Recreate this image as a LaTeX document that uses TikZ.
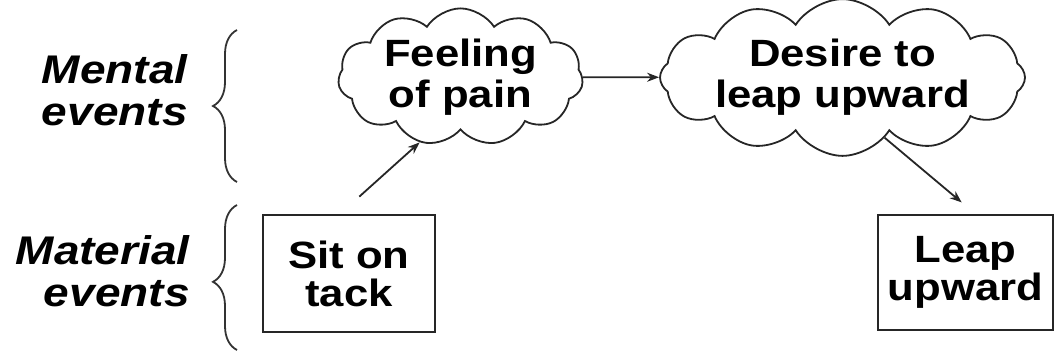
\documentclass[tikz,border=0pt]{standalone}
\usepackage{fontspec}
\setmainfont{Liberation Sans}[FakeStretch=1.15]
\usetikzlibrary{
  arrows.meta,
  shapes.symbols,
  decorations.pathreplacing
}
\begin{document}
\begin{tikzpicture}[
      x=0.5pt, y=-0.5pt,
      event/.style={
         rectangle,
         draw=black!85,
         line width=1pt,
         inner sep=0pt,
         font=\bfseries\fontsize{19}{19}\selectfont,
         align=center
      },
      thought/.style={
         cloud,
         cloud puff arc=115,
         cloud ignores aspect=false,
         draw=black!85,
         line width=0.9pt,
         inner sep=0pt,
         font=\bfseries\fontsize{19}{20.5}\selectfont,
         align=center
      },
      kind/.style={
         anchor=east,
         inner sep=0pt,
         align=right,
         font=\bfseries\itshape\fontsize{20}{21}\selectfont
      },
      grouping/.style={
         decorate,
         decoration={brace,amplitude=12pt,aspect=#1},
         line width=0.9pt,
         draw=black!80
      },
      >={Stealth[length=6pt,width=4.5pt]},
      flow/.style={->,line width=0.9pt,draw=black!85}
    ]
    \useasboundingbox (0,0) rectangle (1055,354);
    % left column
    \node (mental) [kind] at (188,90) {Mental\\events};
    \node (material) [kind] at (190,271) {Material\\events};
    \draw[grouping=0.5] (237,182) -- (237,30);
    \draw[grouping=0.47] (237,350) -- (237,205);
    % events
    \node (sit) [event, minimum width=86pt, minimum height=58.5pt] at (349,273.5) {Sit on\\tack};
    \node (leap) [event, minimum width=87.5pt, minimum height=57.5pt] at (965.5,272.5) {Leap\\upward};
    \node (pain) [thought, cloud puffs=11, aspect=2.0, minimum width=122.5pt] at (460.5,77) {Feeling\\of pain};
    \node (desire) [thought, cloud puffs=12, aspect=3.3, minimum width=182.5pt,
       text height=18.75pt, text depth=9.25pt] at (842.5,77.5)
       {\smash{\begin{tabular}{@{}c@{}}Desire to\\leap upward\end{tabular}}};
    % causes
    \draw[flow, shorten <=13pt] ([xshift=-4.5pt]sit.north) -- (pain.238);
    \draw[flow] (pain) -- (desire);
    \draw[flow, shorten >=9pt] (desire.305) -- ([xshift=5pt]leap.north);
\end{tikzpicture}
\end{document}
